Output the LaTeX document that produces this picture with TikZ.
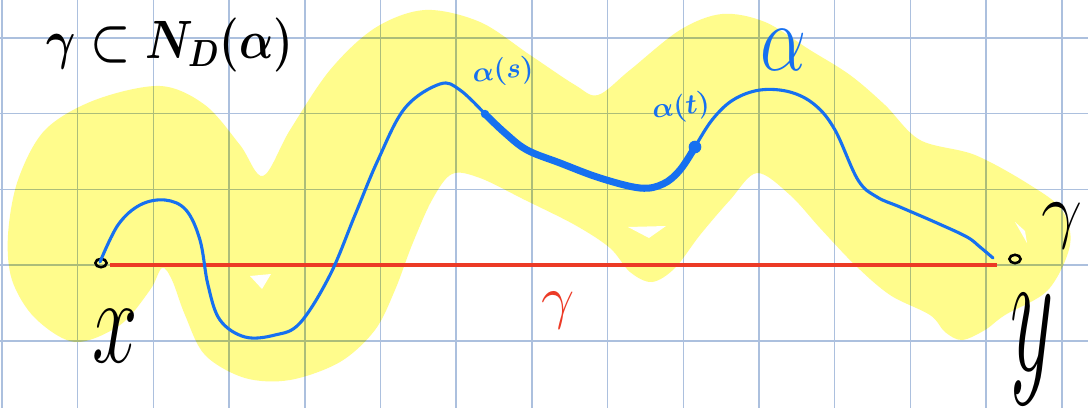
\RequirePackage{fix-cm}
\documentclass[tikz,border=0pt]{standalone}
\usepackage{amsmath}
\usetikzlibrary{positioning,shapes.geometric}

\definecolor{griglia}{RGB}{172,192,222}
\definecolor{evid}{RGB}{255,252,140}
\definecolor{blu}{RGB}{22,112,240}
\definecolor{rosso}{RGB}{236,58,38}

\newcommand{\corpo}[1]{\fontsize{#1}{#1}\selectfont}

\begin{document}
\begin{tikzpicture}[x=0.025cm,y=-0.025cm,
  riga/.style={draw=griglia,line width=1.1pt},
  alfa/.style={draw=blu,line width=2.2pt,line cap=round,line join=round},
  tratto/.style={alfa,line width=5pt},
  punto/.style={circle,fill=blu,inner sep=0pt,minimum size=9pt},
  estremo/.style={ellipse,draw=black,line width=1.8pt,inner sep=0pt,minimum width=8pt,minimum height=6pt},
  nero/.style={text=black,inner sep=0pt},
  blutxt/.style={text=blu,inner sep=0pt}]

  \useasboundingbox (0,0) rectangle (1088,408);
  \fill[white] (0,0) rectangle (1088,408);

  % Griglia
  \foreach \i in {0,...,14}
    \draw[riga] ({2+75.7*\i},0) -- ({2+75.7*\i},408);
  \foreach \j in {0,...,4}
    \draw[riga] (0,{38+75.7*\j}) -- (1088,{38+75.7*\j});

  % Intorno N_D(alpha)
  \fill[evid,blend mode=multiply] plot[smooth cycle,tension=0.55] coordinates {
    (8,235) (18,180) (45,130) (95,100) (160,86) (205,105) (240,145) (263,176)
    (290,130) (330,70) (375,28) (425,10) (480,22) (530,55) (575,85) (598,95)
    (630,70) (680,30) (722,14) (765,22) (810,50) (850,75) (885,105) (920,140)
    (975,155) (1030,185) (1062,210) (1070,245) (1048,290) (1005,315) (985,330)
    (962,340) (945,332) (930,315) (890,295) (855,265) (820,228) (790,195)
    (757,173) (730,200) (700,235) (675,268) (652,282) (630,272) (610,248)
    (575,225) (525,200) (480,178) (452,174) (432,200) (412,245) (395,290)
    (375,330) (340,362) (290,380) (245,378) (205,355) (185,315) (172,280)
    (162,268) (150,290) (120,325) (75,342) (35,318) (12,280)};
  \fill[white] (628,227) -- (666,226) -- (649,238) -- cycle;
  \fill[white] (250,276) -- (271,274) -- (262,289) -- cycle;
  \fill[white] (1015,222) -- (1025,231) -- (1027,243) -- cycle;

  % Punti
  \node[estremo] (px) at (101,263) {};
  \node[estremo] (py) at (1015,259) {};
  \coordinate (g0) at (110,265);
  \coordinate (g1) at (997,265);
  \coordinate (a0) at (100,262);
  \coordinate (a1) at (993,258);
  \node[punto,minimum size=6pt] (ps) at (485,114) {};
  \node[punto] (pt) at (695,147) {};

  % Curve
  \draw[rosso,line width=2.6pt] (g0) -- (g1);
  \draw[alfa] plot[smooth,tension=0.6] coordinates {
    (a0) (118,225) (140,205) (165,200) (186,210) (200,240) (208,285)
    (220,320) (245,337) (275,335) (300,323) (330,275) (355,215) (378,160)
    (405,108) (440,84) (460,90) (ps)};
  \draw[tratto] plot[smooth,tension=0.6] coordinates {
    (ps) (505,133) (527,150) (560,163) (600,178) (640,188) (663,184)
    (680,170) (pt)};
  \draw[alfa] plot[smooth,tension=0.6] coordinates {
    (pt) (712,120) (733,100) (760,90) (790,92) (815,105) (835,130)
    (858,180) (877,197) (900,207) (937,223) (967,237) (980,247) (a1)};

  % Etichette
  \node[nero,yscale=1.2,font=\corpo{32}\boldmath] (titolo) at (170,45) {$\gamma\subset N_D(\alpha)$};
  \node[blutxt,rotate=6,font=\corpo{20}\boldmath] (lab-s) at (503,72) {$\alpha(s)$};
  \node[blutxt,rotate=8,font=\corpo{20}\boldmath] (lab-t) at (681,108) {$\alpha(t)$};
  \node[blutxt,yscale=1.3,font=\corpo{52}] (lab-a) at (783,50) {$\alpha$};
  \node[text=rosso,inner sep=0pt,font=\corpo{42}] (lab-g) at (558,311) {$\gamma$};
  \node[nero,font=\corpo{52}] (lab-g2) at (1062,226) {$\gamma$};
  \node[nero,yscale=1.5,font=\corpo{58}] (lab-x) at (115,336) {$x$};
  \node[nero,yscale=2.1,font=\corpo{60}] (lab-y) at (1032,350) {$y$};

\end{tikzpicture}
\end{document}
